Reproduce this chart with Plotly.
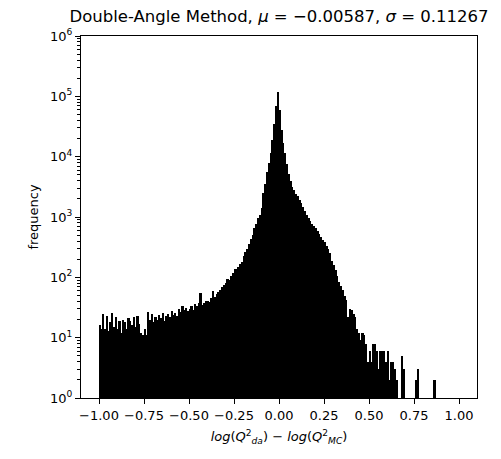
import plotly.graph_objects as go

# Histogram bins: 200 bins of width 0.01 between -1 and 1
bin_start = -1.0
bin_width = 0.01

counts = [
    # -1.00 .. -0.75
    16, 14, 25, 14, 23, 13, 18, 26, 15, 22, 14, 19, 12, 20, 18, 14, 21, 19, 16, 22, 15, 23, 17, 12, 11,
    # -0.75 .. -0.50
    14, 11, 27, 20, 25, 18, 22, 20, 24, 21, 26, 19, 23, 25, 22, 28, 24, 26, 23, 30, 27, 33, 29, 31, 28,
    # -0.50 .. -0.40
    30, 34, 29, 36, 33, 38, 55, 35, 37, 40,
    # -0.40 .. -0.30
    41, 39, 45, 60, 48, 52, 58, 62, 70, 75,
    # -0.30 .. -0.20
    82, 95, 90, 105, 120, 140, 135, 150, 165, 180,
    # -0.20 .. -0.10
    230, 260, 300, 360, 430, 500, 650, 760, 950, 1080,
    # -0.10 .. 0.00
    1400, 2500, 3500, 5500, 8000, 11500, 19000, 35000, 70000, 118000,
    # 0.00 .. 0.10
    60000, 28000, 17000, 11500, 7500, 5200, 3900, 3200, 2800, 2400,
    # 0.10 .. 0.20
    2200, 1900, 1700, 1450, 1250, 1100, 980, 870, 780, 700,
    # 0.20 .. 0.30
    650, 590, 520, 460, 420, 380, 330, 300, 250, 190,
    # 0.30 .. 0.40
    160, 130, 105, 85, 72, 62, 50, 42, 22, 30,
    # 0.40 .. 0.50
    29, 25, 22, 14, 12, 9, 12, 11, 8, 4,
    # 0.50 .. 0.60
    6, 4, 8, 8, 6, 3, 6, 6, 6, 4,
    # 0.60 .. 0.70
    6, 2, 4, 4, 3, 2, 0, 0, 5, 3,
    # 0.70 .. 0.80
    0, 0, 0, 0, 0, 0, 2, 3, 0, 0,
    # 0.80 .. 0.90
    0, 0, 0, 0, 0, 0, 2, 0, 0, 0,
    # 0.90 .. 1.00
    0, 0, 0, 0, 0, 0, 0, 0, 0, 0,
]

x_tick_vals = [-1.0, -0.75, -0.5, -0.25, 0.0, 0.25, 0.5, 0.75, 1.0]
x_tick_text = ["\u22121.00", "\u22120.75", "\u22120.50", "\u22120.25", "0.00", "0.25", "0.50", "0.75", "1.00"]
y_tick_vals = [1, 10, 100, 1000, 10000, 100000, 1000000]
y_tick_text = ["10<sup>0</sup>", "10<sup>1</sup>", "10<sup>2</sup>", "10<sup>3</sup>",
               "10<sup>4</sup>", "10<sup>5</sup>", "10<sup>6</sup>"]

centers = [bin_start + bin_width * (i + 0.5) for i in range(len(counts))]
heights = [c if c > 0 else None for c in counts]
minor_vals = [k * 10 ** d for d in range(6) for k in range(2, 10)]

fig = go.Figure()
fig.add_trace(go.Bar(
    x=centers, y=heights, width=bin_width,
    marker=dict(color="black", line=dict(width=0)),
    hoverinfo="skip",
))

font = "DejaVu Sans, sans-serif"
fig.update_layout(
    width=501, height=459,
    margin=dict(l=81, r=24, t=36, b=61),
    paper_bgcolor="white", plot_bgcolor="white",
    showlegend=False, bargap=0,
    font=dict(family=font, size=13, color="black"),
    title=dict(
        text="Double-Angle Method, <i>\u03bc</i> = \u22120.00587, <i>\u03c3</i> = 0.11267",
        x=0.5, xref="paper", xanchor="center",
        y=1, yref="paper", yanchor="bottom",
        pad=dict(b=14),
        font=dict(family=font, size=16.5, color="black"),
    ),
)
fig.update_xaxes(
    range=[-1.1, 1.1],
    tickmode="array", tickvals=x_tick_vals, ticktext=x_tick_text,
    ticks="outside", ticklen=5, tickwidth=1, tickcolor="black",
    showline=True, linecolor="black", linewidth=1, mirror=True,
    showgrid=False, zeroline=False,
    tickfont=dict(family=font, size=13, color="black"),
    title=dict(
        text="<i>log</i>(<i>Q</i><sup>2</sup><sub><i>da</i></sub>) \u2212 <i>log</i>(<i>Q</i><sup>2</sup><sub><i>MC</i></sub>)",
        font=dict(family=font, size=13, color="black"),
        standoff=10,
    ),
)
fig.update_yaxes(
    type="log", range=[0, 6],
    tickmode="array", tickvals=y_tick_vals, ticktext=y_tick_text,
    ticks="outside", ticklen=5, tickwidth=1, tickcolor="black",
    minor=dict(tickvals=minor_vals, ticks="outside", ticklen=3, tickwidth=1, tickcolor="black", showgrid=False),
    showline=True, linecolor="black", linewidth=1, mirror=True,
    showgrid=False, zeroline=False,
    tickfont=dict(family=font, size=13, color="black"),
    title=dict(text="frequency", font=dict(family=font, size=13, color="black"), standoff=8),
)

fig.write_html("out.html")
